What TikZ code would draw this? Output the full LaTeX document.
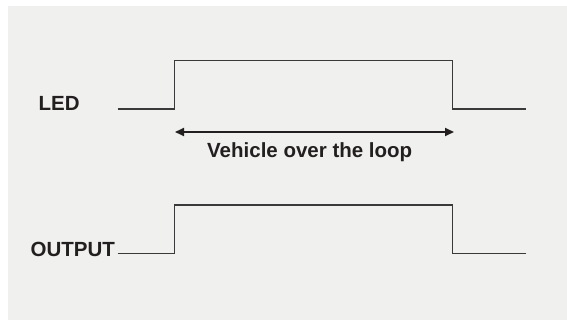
\documentclass[tikz,border=0pt]{standalone}
\usepackage{fontspec}
\setmainfont{Liberation Sans}
\usetikzlibrary{arrows.meta}
\definecolor{bg}{HTML}{F0F0EE}
\definecolor{ink}{HTML}{231F20}
\definecolor{sig}{HTML}{3A3A3A}
\tikzset{
  signal/.style={draw=sig, line width=1.4pt, line join=miter},
  lbl/.style={font=\bfseries\fontsize{20.5}{24}\selectfont, text=ink, inner sep=0pt, anchor=base west},
  span/.style={draw=ink, line width=2pt, {Triangle[length=9pt,width=8pt]}-{Triangle[length=9pt,width=8pt]}}
}
\begin{document}
\begin{tikzpicture}[x=1pt,y=-1pt]
\useasboundingbox (0,0) rectangle (567,320);
\fill[white] (0,0) rectangle (567,320);
\fill[bg] (8,6) rectangle (567,320);
% LED signal
\coordinate (a0) at (117.7,109);
\coordinate (a1) at (174.7,109);
\coordinate (a2) at (174.7,60.3);
\coordinate (a3) at (452.7,60.3);
\coordinate (a4) at (452.7,109);
\coordinate (a5) at (526,109);
\draw[signal] (a0) -- (a1) -- (a2) -- (a3) -- (a4) -- (a5);
% OUTPUT signal
\coordinate (b0) at (117.7,253.7);
\coordinate (b1) at (174.7,253.7);
\coordinate (b2) at (174.7,205);
\coordinate (b3) at (452.7,205);
\coordinate (b4) at (452.7,253.7);
\coordinate (b5) at (526,253.7);
\draw[signal] (b0) -- (b1) -- (b2) -- (b3) -- (b4) -- (b5);
% labels
\node[lbl] (led) at (38.5,110.9) {LED};
\node[lbl] (out) at (30.5,256.2) {OUTPUT};
\node[lbl] (veh) at (207,157.3) {Vehicle over the loop};
% span arrow
\coordinate (s0) at (175,132);
\coordinate (s1) at (454,132);
\draw[span] (s0) -- (s1);
\end{tikzpicture}
\end{document}
